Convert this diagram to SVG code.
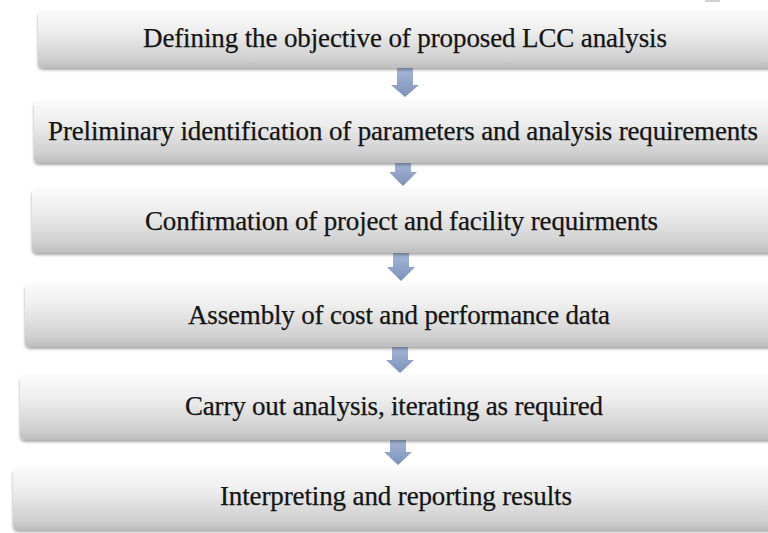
<svg xmlns="http://www.w3.org/2000/svg" width="768" height="533" viewBox="0 0 768 533">
<style>
.box{fill:url(#bg);filter:url(#sh);}
.lbl{font-family:"Liberation Serif","Times New Roman",serif;font-size:27px;fill:#141414;stroke:#141414;stroke-width:0.25px;}
.arr{fill:url(#ag);}
</style>
<defs>
<linearGradient id="bg" x1="0" y1="0" x2="0" y2="1">
<stop offset="0" stop-color="#fbfbfb"/>
<stop offset="0.35" stop-color="#eeeeee"/>
<stop offset="0.85" stop-color="#cfcfcf"/>
<stop offset="1" stop-color="#bdbdbd"/>
</linearGradient>
<linearGradient id="ag" x1="0" y1="0" x2="0" y2="1">
<stop offset="0" stop-color="#a9bcdc"/>
<stop offset="1" stop-color="#7d90b7"/>
</linearGradient>
<filter id="sh" x="-5%" y="-20%" width="110%" height="150%">
<feDropShadow dx="0" dy="2" stdDeviation="1.5" flood-color="#000" flood-opacity="0.35"/>
</filter>
</defs>
<rect x="705" y="0" width="15" height="2" fill="#d0d0d0"/>
<g id="connectors">
<path class="arr" d="M397,66 H413 V85 H419 L405,97 L391,85 H397 Z"/>
<path class="arr" d="M395,160 H411 V172 H417 L403,186 L389,172 H395 Z"/>
<path class="arr" d="M393,250 H409 V267 H415 L401,281 L387,267 H393 Z"/>
<path class="arr" d="M392,344 H408 V360 H414 L400,373 L386,360 H392 Z"/>
<path class="arr" d="M390,437 H406 V452 H412 L398,465 L384,452 H390 Z"/>
</g>
<g id="n1"><rect class="box" x="38" y="10" width="760" height="58" rx="5"/>
<text class="lbl" x="143" y="47" textLength="524" lengthAdjust="spacing">Defining the objective of proposed LCC analysis</text></g>
<g id="n2"><rect class="box" x="34" y="100" width="760" height="63" rx="5"/>
<text class="lbl" x="48" y="140" textLength="710" lengthAdjust="spacing">Preliminary identification of parameters and analysis requirements</text></g>
<g id="n3"><rect class="box" x="32" y="188" width="760" height="65" rx="5"/>
<text class="lbl" x="145" y="230" textLength="513" lengthAdjust="spacing">Confirmation of project and facility requirments</text></g>
<g id="n4"><rect class="box" x="25" y="283" width="770" height="64" rx="5"/>
<text class="lbl" x="188" y="324" textLength="422" lengthAdjust="spacing">Assembly of cost and performance data</text></g>
<g id="n5"><rect class="box" x="20" y="375" width="780" height="65" rx="5"/>
<text class="lbl" x="185" y="415" textLength="418" lengthAdjust="spacing">Carry out analysis, iterating as required</text></g>
<g id="n6"><rect class="box" x="13" y="467" width="790" height="63" rx="5"/>
<text class="lbl" x="220" y="505" textLength="352" lengthAdjust="spacing">Interpreting and reporting results</text></g>
</svg>
